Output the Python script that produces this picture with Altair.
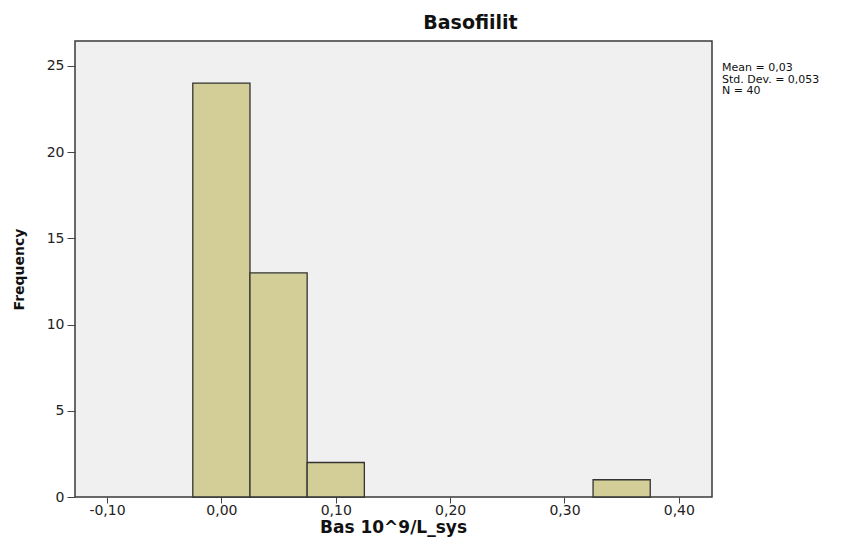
import altair as alt
import pandas as pd

# ---- data ----
bin_start = [-0.025, 0.025, 0.075, 0.325]
bin_end = [0.025, 0.075, 0.125, 0.375]
counts = [24, 13, 2, 1]

x_ticks = [-0.10, 0.00, 0.10, 0.20, 0.30, 0.40]
y_ticks = [0, 5, 10, 15, 20, 25]

stat_lines = ["Mean = 0,03", "Std. Dev. = 0,053", "N = 40"]

title_text = "Basofiilit"
x_title = "Bas 10^9/L_sys"
y_title = "Frequency"

bars_df = pd.DataFrame({"start": bin_start, "end": bin_end, "count": counts})
stats_df = pd.DataFrame({"txt": ["\n".join(stat_lines)]})

FONT = "DejaVu Sans"

x_scale = alt.Scale(domain=[-0.128, 0.429], nice=False, zero=False)
y_scale = alt.Scale(domain=[0, 26.44], nice=False, zero=True)

bars = alt.Chart(bars_df).mark_rect(
    fill="#D3CE97", stroke="#333333", strokeWidth=1.3
).encode(
    x=alt.X("start:Q", scale=x_scale, axis=alt.Axis(
        values=x_ticks,
        labelExpr="(datum.value < 0 ? '-' : '') + replace(format(abs(datum.value), '.2f'), '.', ',')",
        title=x_title, titleFontSize=17, titleFontWeight="bold", titleFont=FONT,
        titleX=318, titleY=35, titleBaseline="alphabetic", titleAlign="center",
        titleColor="#111111",
        tickSize=6, labelPadding=0, labelFontSize=14, labelFont=FONT,
        labelColor="#222222", tickColor="#444444", domain=False, grid=False,
        labelFlush=False,
    )),
    x2="end:Q",
    y=alt.Y("count:Q", scale=y_scale, axis=alt.Axis(
        values=y_ticks, format="d",
        title=y_title, titleFontSize=14, titleFontWeight="bold", titleFont=FONT,
        titleX=-56, titleY=228, titleAngle=270, titleAlign="center", titleBaseline="middle",
        titleColor="#111111",
        tickSize=8, labelPadding=3, labelFontSize=14, labelFont=FONT,
        labelColor="#222222", tickColor="#444444", domain=False, grid=False,
        labelFlush=False,
    )),
    y2=alt.datum(0),
)

stats = alt.Chart(stats_df).mark_text(
    align="left", baseline="top", lineBreak="\n", lineHeight=11.5,
    font=FONT, fontSize=11, color="#111111"
).encode(
    x=alt.value(647),
    y=alt.value(21),
    text="txt:N",
)

chart = alt.layer(bars, stats).properties(
    width=637,
    height=456,
    background="white",
    title=alt.TitleParams(
        text=title_text, anchor="middle", fontSize=19, fontWeight="bold",
        font=FONT, color="#111111", baseline="alphabetic", offset=12, dx=77, dy=19,
    ),
    autosize=alt.AutoSizeParams(type="none"),
    padding={"left": 67, "top": 33, "right": 131, "bottom": 40},
).configure_view(
    fill="#F0F0F0", stroke="#3a3a3a", strokeWidth=1.5
)

chart.save("out.html", embed_options={"renderer": "svg", "actions": False})
